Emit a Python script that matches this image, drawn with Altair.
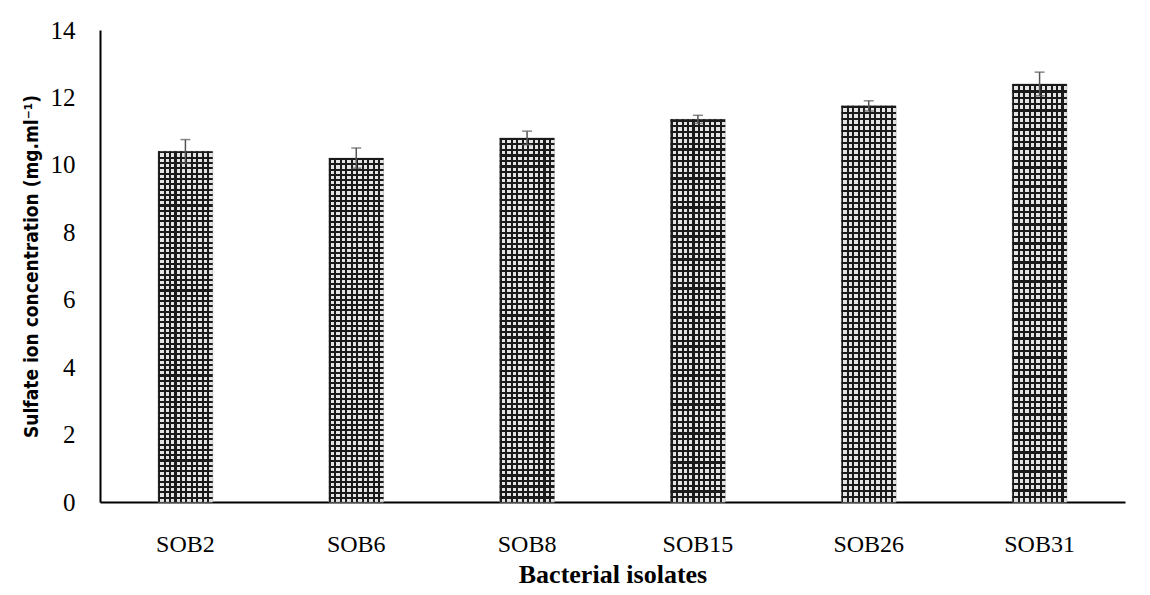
import altair as alt
import pandas as pd

isolates = ["SOB2", "SOB6", "SOB8", "SOB15", "SOB26", "SOB31"]
sulfate = [10.4, 10.2, 10.8, 11.35, 11.75, 12.4]
errors = [0.35, 0.3, 0.2, 0.12, 0.15, 0.35]

df = pd.DataFrame({"isolate": isolates, "value": sulfate, "err": errors})
df["lo"] = df["value"] - df["err"]
df["hi"] = df["value"] + df["err"]


def stripes(n, dark_frac, vertical):
    stops = []
    for i in range(n):
        a = i / n
        b = (i + dark_frac) / n
        stops += [
            {"offset": a, "color": "#1a1a1a"},
            {"offset": b, "color": "#1a1a1a"},
            {"offset": b, "color": "rgba(0,0,0,0)"},
            {"offset": (i + 1) / n, "color": "rgba(0,0,0,0)"},
        ]
    if vertical:
        return {"gradient": "linear", "x1": 0, "x2": 1, "y1": 0, "y2": 0, "stops": stops}
    return {"gradient": "linear", "x1": 0, "x2": 0, "y1": 0, "y2": 1, "stops": stops}


x_enc = alt.X(
    "isolate:N",
    sort=isolates,
    scale=alt.Scale(paddingInner=0.68, paddingOuter=0.34),
    axis=alt.Axis(
        title="Bacterial isolates",
        labelAngle=0,
        labelFont="Liberation Serif",
        labelFontSize=24,
        labelColor="black",
        labelPadding=30,
        ticks=False,
        domainColor="black",
        domainWidth=2,
        titleFont="Liberation Serif",
        titleFontSize=26,
        titleFontWeight="bold",
        titleColor="black",
        titlePadding=5,
    ),
)
y_scale = alt.Scale(domain=[0, 14])
y_enc = alt.Y(
    "value:Q",
    scale=y_scale,
    axis=alt.Axis(
        title="Sulfate ion concentration (mg.ml⁻¹)",
        values=[0, 2, 4, 6, 8, 10, 12, 14],
        grid=False,
        ticks=False,
        labelFont="Liberation Serif",
        labelFontSize=25,
        labelColor="black",
        labelPadding=25,
        domainColor="black",
        domainWidth=2,
        titleFont="DejaVu Sans Condensed",
        titleFontSize=19,
        titleFontWeight="bold",
        titleColor="black",
        titlePadding=9,
    ),
)

base = alt.Chart(df)
bg = base.mark_bar(fill="#e4e4e4", stroke="#bbbbbb", strokeWidth=0.8).encode(x=x_enc, y=y_enc)
vlines = base.mark_bar(fill=stripes(10, 0.38, True)).encode(x=x_enc, y=y_enc)
hlines = base.mark_bar(fill=stripes(66, 0.38, False)).encode(x=x_enc, y=y_enc)

err_rule = base.mark_rule(color="#555555", strokeWidth=1.5).encode(
    x=alt.X("isolate:N", sort=isolates),
    y=alt.Y("lo:Q", scale=y_scale),
    y2="hi:Q",
)
cap_hi = base.mark_tick(color="#555555", size=10, thickness=1.5, orient="horizontal").encode(
    x=alt.X("isolate:N", sort=isolates), y=alt.Y("hi:Q", scale=y_scale)
)
cap_lo = base.mark_tick(color="#555555", size=10, thickness=1.5, orient="horizontal").encode(
    x=alt.X("isolate:N", sort=isolates), y=alt.Y("lo:Q", scale=y_scale)
)

chart = (
    alt.layer(bg, vlines, hlines, err_rule, cap_hi, cap_lo)
    .properties(
        width=1025,
        height=472,
        autosize=alt.AutoSizeParams(type="none"),
        padding={"left": 92, "top": 22, "right": 17, "bottom": 85},
        view=alt.ViewBackground(stroke="transparent", strokeWidth=0),
    )
    .configure_view(stroke="transparent", strokeWidth=0)
    .configure(background="white")
)

chart.save("out.html", embed_options={"renderer": "svg", "actions": False})
